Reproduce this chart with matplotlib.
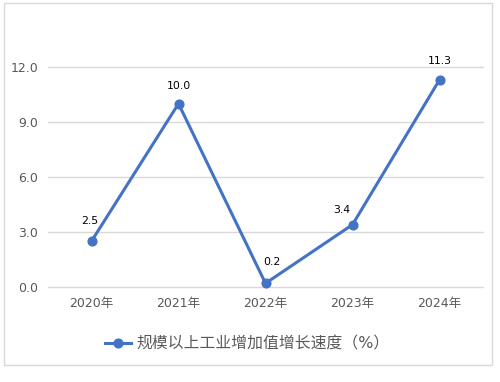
import matplotlib
matplotlib.use("Agg")
import matplotlib.pyplot as plt
from matplotlib.patches import Rectangle

plt.rcParams['font.family'] = ['DejaVu Sans', 'Noto Sans CJK SC']

years = ["2020年", "2021年", "2022年", "2023年", "2024年"]
growth = [2.5, 10.0, 0.2, 3.4, 11.3]
yticks = [0.0, 3.0, 6.0, 9.0, 12.0]
series_name = "规模以上工业增加值增长速度（%）"

# label offsets (pixels) relative to each point, as in the reference
label_dx = [-2, 0, 6, -11, 0]
label_dy = [20, 18, 21, 15, 19]

W, H = 500, 382
fig = plt.figure(figsize=(W / 100, H / 100), dpi=100)
ax = fig.add_axes([48 / W, (H - 287) / H, 435 / W, 220 / H])

x = list(range(len(years)))
line, = ax.plot(x, growth, color="#4472C4", linewidth=2.2, marker="o",
                markersize=6.3, label=series_name, clip_on=False, zorder=3)
for xi, v, dx, dy in zip(x, growth, label_dx, label_dy):
    ax.annotate(f"{v:.1f}", (xi, v), xytext=(dx * 0.72, dy * 0.72),
                textcoords="offset points",
                ha="center", va="center", fontsize=7.8, color="#000000")

ax.set_xlim(-0.5, len(years) - 0.5)
ax.set_ylim(0, 12)
ax.set_yticks(yticks)
ax.set_yticklabels([f"{t:.1f}" for t in yticks])
ax.set_xticks(x)
ax.set_xticklabels(years)
ax.grid(axis="y", color="#D9D9D9", linewidth=1)
for gl in ax.get_ygridlines():
    gl.set_clip_on(False)
ax.set_axisbelow(True)
for s in ax.spines.values():
    s.set_visible(False)
ax.tick_params(axis="both", length=0, colors="#595959", labelsize=9)
ax.tick_params(axis="y", pad=7)
ax.tick_params(axis="x", pad=7)

fig.legend(handles=[line], loc="center", bbox_to_anchor=(247 / W, (H - 344) / H),
           frameon=False, fontsize=11.4, labelcolor="#595959", handlelength=1.7,
           handletextpad=0.3)

fig.patches.append(Rectangle((4 / W, (H - 365) / H), 488 / W, 362 / H,
                             transform=fig.transFigure, fill=False,
                             edgecolor="#D9D9D9", linewidth=1))

fig.savefig("out.png", dpi=100)
